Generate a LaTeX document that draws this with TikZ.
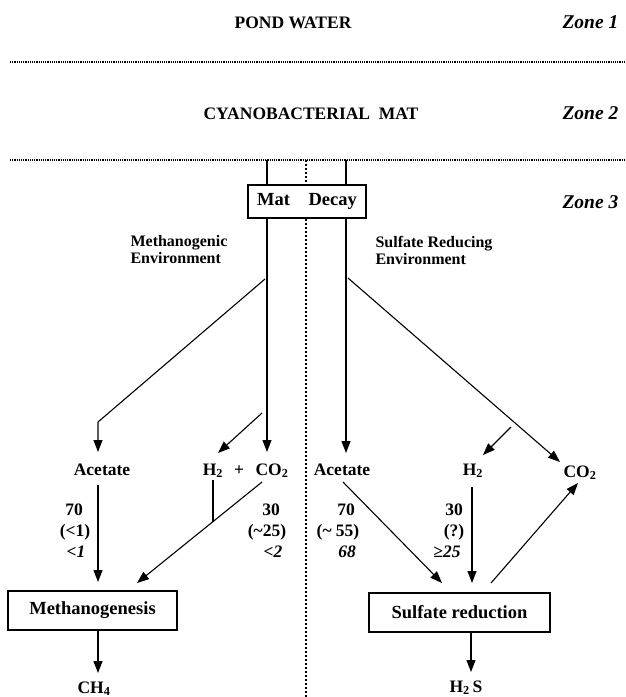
\documentclass[tikz,border=0pt]{standalone}
\usepackage{fontspec}
\setmainfont{Liberation Serif}
\usetikzlibrary{arrows.meta}
\begin{document}
\begin{tikzpicture}[x=1pt,y=-1pt,
  line width=1.1pt,
  every node/.style={inner sep=0pt},
  title/.style={anchor=base, font=\fontsize{17.5}{20}\selectfont\bfseries},
  zone/.style={anchor=base west, font=\fontsize{19.5}{22}\selectfont\bfseries\itshape},
  env/.style={anchor=base west, font=\fontsize{16}{18}\selectfont\bfseries},
  lbl/.style={anchor=base, font=\fontsize{17.5}{20}\selectfont\bfseries},
  num/.style={anchor=base, font=\fontsize{17.5}{20}\selectfont\bfseries},
  inum/.style={anchor=base, font=\fontsize{17.5}{20}\selectfont\bfseries\itshape},
  procbox/.style={draw, line width=1.2pt, font=\fontsize{18.5}{20}\selectfont\bfseries},
  arr/.style={-{Triangle[length=12pt,width=9pt]}},
  hdot/.style={line width=1.2pt, dash pattern=on 1.2pt off 1pt},
  vdot/.style={line width=2.6pt, dash pattern=on 2.4pt off 1.6pt}
]
\useasboundingbox (0,0) rectangle (626,697);

% zone titles
\node[title] (pond) at (293,28) {POND WATER};
\node[zone] (z1) at (562,28) {Zone 1};
\node[title] (cyano) at (311,119) {CYANOBACTERIAL\ \ MAT};
\node[zone] (z2) at (562,119) {Zone 2};
\node[zone] (z3) at (562,208) {Zone 3};

% dotted separators
\coordinate (h1a) at (10,62);  \coordinate (h1b) at (626,62);
\coordinate (h2a) at (10,160); \coordinate (h2b) at (626,160);
\draw[hdot] (h1a) -- (h1b);
\draw[hdot] (h2a) -- (h2b);

% mat decay box
\node[procbox, minimum width=118pt, minimum height=33pt, font=\fontsize{18.5}{20}\selectfont\bfseries] (mat) at (307,201.5) {Mat\quad Decay};

\coordinate (t1) at (267,160);
\coordinate (t2) at (346,160);
\coordinate (tv) at (306,160);
\coordinate (bv) at (306,697);
\draw (t1) -- (t1 |- mat.north);
\draw (t2) -- (t2 |- mat.north);
\draw[vdot] (tv) -- (tv |- mat.north);
\draw[vdot] (tv |- mat.south) -- (bv);

% environments
\node[env] (me1) at (130,246) {Methanogenic};
\node[env] (me2) at (130,263) {Environment};
\node[env] (se1) at (375,247) {Sulfate Reducing};
\node[env] (se2) at (375,264) {Environment};

% products row
\node[lbl] (acL) at (102,475) {Acetate};
\node[lbl] (h2L) at (213,475) {H\textsubscript{2}};
\node[lbl] (plus) at (239,475) {+};
\node[lbl] (co2L) at (272,475) {CO\textsubscript{2}};
\node[lbl] (acR) at (342,475) {Acetate};
\node[lbl] (h2R) at (473,475) {H\textsubscript{2}};
\node[lbl] (co2R) at (580,477) {CO\textsubscript{2}};

% upper connectors
\coordinate (aLtip) at (98,452);
\coordinate (cLtip) at (267,452);
\coordinate (hLtip) at (218,453);
\coordinate (hLsrc) at (262,413);
\coordinate (aRtip) at (346,453);
\coordinate (hRtip) at (483,455);
\coordinate (hRsrc) at (511,427);
\coordinate (cRtip) at (560,462);
\coordinate (dL) at (265,279);
\coordinate (kL) at (98,422);
\coordinate (dR) at (348,278);

\draw[arr] (mat.south -| cLtip) -- (cLtip);
\draw[arr] (mat.south -| aRtip) -- (aRtip);
\draw[arr] (dL) -- (kL) -- (aLtip);
\draw[arr] (hLsrc) -- (hLtip);
\draw[arr] (dR) -- (cRtip);
\draw[arr] (hRsrc) -- (hRtip);

% process boxes
\node[procbox, minimum width=169pt, minimum height=39pt] (mg) at (92.5,610.5) {Methanogenesis};
\node[procbox, minimum width=181pt, minimum height=39pt] (sr) at (459.5,612.5) {Sulfate reduction};

% lower left connectors
\coordinate (aLbot) at (98,485);
\coordinate (mgA) at (98,582);
\coordinate (cLbot) at (262,482);
\coordinate (mgB) at (137,583);
\coordinate (hLbot) at (213,480);
\coordinate (hLj) at (213,521.6);
\draw[arr] (aLbot) -- (mgA);
\draw[arr] (cLbot) -- (mgB);
\draw (hLbot) -- (hLj);

% lower right connectors
\coordinate (aRbot) at (343,482);
\coordinate (srA) at (442,583);
\coordinate (hRbot) at (472,487);
\coordinate (srB) at (472,583);
\coordinate (srC) at (491,583);
\coordinate (cRbot) at (578,483);
\draw[arr] (aRbot) -- (srA);
\draw[arr] (hRbot) -- (srB);
\draw[arr] (srC) -- (cRbot);

% numbers
\node[num] (n1) at (74,515) {70};
\node[num] (n2) at (75,536) {(<1)};
\node[inum] (n3) at (76,557) {<1};
\node[num] (n4) at (271,515) {30};
\node[num] (n5) at (267,536) {(\textasciitilde25)};
\node[inum] (n6) at (273,557) {<2};
\node[num] (n7) at (346,515) {70};
\node[num] (n8) at (338,536) {(\textasciitilde\ 55)};
\node[inum] (n9) at (347,557) {68};
\node[num] (n10) at (454,515) {30};
\node[num] (n11) at (454,536) {(?)};
\node[inum] (n12) at (447,557) {≥25};

% outputs
\coordinate (ch4tip) at (98,673);
\coordinate (h2stip) at (471,672);
\draw[arr] (mg.south -| ch4tip) -- (ch4tip);
\draw[arr] (sr.south -| h2stip) -- (h2stip);
\node[lbl] (ch4) at (94,693) {CH\textsubscript{4}};
\node[lbl] (h2s) at (466,692) {H\textsubscript{2}\,S};
\end{tikzpicture}
\end{document}
